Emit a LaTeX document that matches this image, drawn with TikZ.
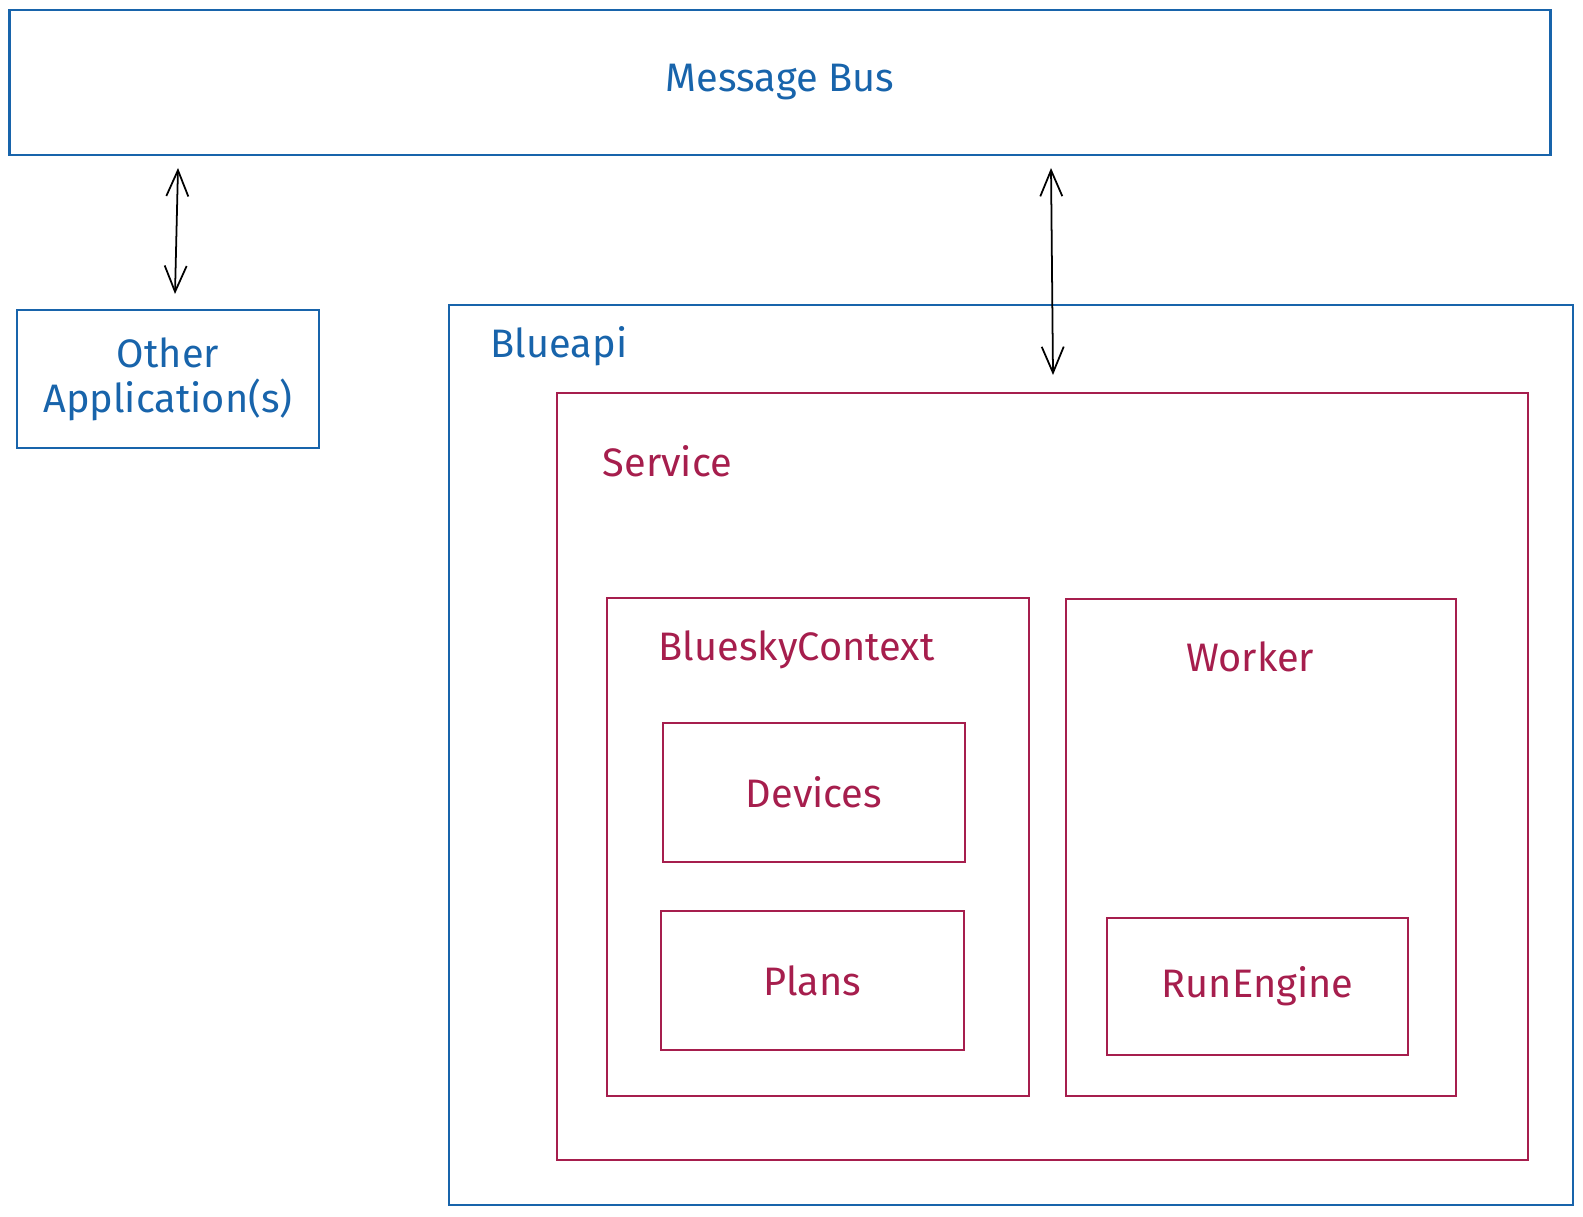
\documentclass[tikz,border=0pt]{standalone}
\usepackage{fontspec}
\setmainfont{Fira Sans}
\usepackage{tikz}
\usetikzlibrary{positioning,calc,arrows.meta}
\definecolor{busblue}{RGB}{24,100,171}
\definecolor{svcred}{RGB}{166,30,77}

\begin{document}
\begin{tikzpicture}[x=0.01cm,y=-0.01cm,
    bluebox/.style={draw=busblue, line width=0.6pt, inner sep=0pt, text=busblue, font=\fontsize{11.3}{12.8}\selectfont},
    redbox/.style={draw=svcred, line width=0.6pt, inner sep=0pt, text=svcred, font=\fontsize{11.3}{12.8}\selectfont},
    lbl/.style={inner sep=0pt, font=\fontsize{11.3}{12.8}\selectfont},
    link/.style={{Straight Barb[length=2.6mm,width=2.2mm]}-{Straight Barb[length=2.6mm,width=2.2mm]}, line width=0.5pt, black}]
    \useasboundingbox (0,0) rectangle (1583,1216);
    % outside
    \node[bluebox, minimum width=15.40cm, minimum height=1.45cm] (bus) at (780,82.5) {Message Bus};
    \node[bluebox, minimum width=3.02cm, minimum height=1.38cm, align=center] (other) at (168,379) {Other\\Application(s)};
    \node[bluebox, minimum width=11.24cm, minimum height=9.00cm] (blueapi) at (1011,755) {};
    \node[lbl, text=busblue, anchor=west] (blueapilbl) at (490,346) {Blueapi};
    % service
    \node[redbox, minimum width=9.71cm, minimum height=7.67cm] (service) at (1042.5,776.5) {};
    \node[lbl, text=svcred, anchor=west] (servicelbl) at (602,461) {Service};
    \node[redbox, minimum width=4.22cm, minimum height=4.98cm] (ctx) at (818,847) {};
    \node[lbl, text=svcred, anchor=west] (ctxlbl) at (658,650) {BlueskyContext};
    \node[redbox, minimum width=3.90cm, minimum height=4.97cm] (worker) at (1261,847.5) {};
    \node[lbl, text=svcred] (workerlbl) at (1250,657) {Worker};
    \node[redbox, minimum width=3.02cm, minimum height=1.39cm] (devices) at (814,792.5) {Devices};
    \node[redbox, minimum width=3.03cm, minimum height=1.39cm] (plans) at (812.5,980.5) {Plans};
    \node[redbox, minimum width=3.01cm, minimum height=1.37cm] (runengine) at (1257.5,986.5) {RunEngine};
    % links to the bus
    \coordinate (busL) at (178,168);
    \coordinate (otherT) at (175,294);
    \coordinate (busR) at (1051,168);
    \coordinate (blueapiT) at (1053,375);
    \draw[link] (busL) -- (otherT);
    \draw[link] (busR) -- (blueapiT);
\end{tikzpicture}
\end{document}
